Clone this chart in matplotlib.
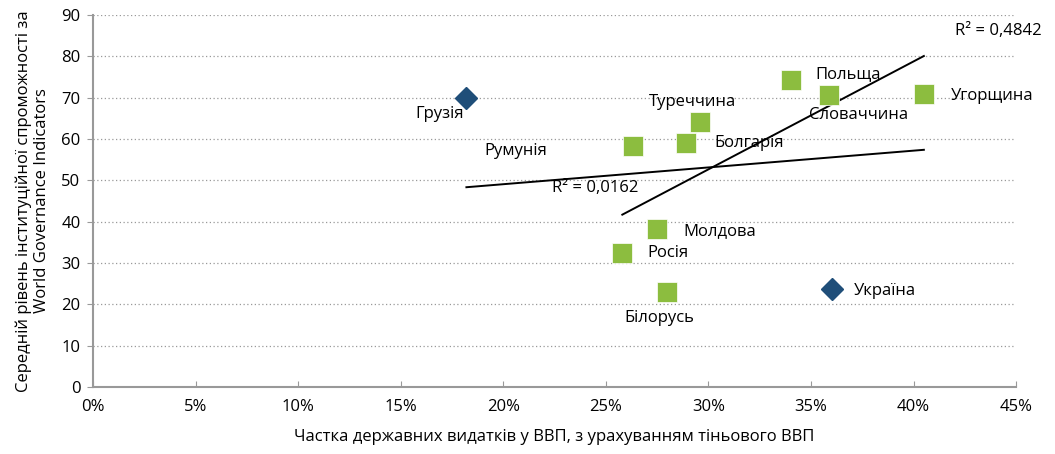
import numpy as np
import matplotlib.pyplot as plt

plt.rcParams["font.family"] = ["Open Sans", "DejaVu Sans"]

# Countries of the region (green squares)
green_names = ["Румунія", "Болгарія", "Туреччина", "Польща", "Словаччина",
               "Угорщина", "Молдова", "Росія", "Білорусь"]
green_x = [26.3, 28.9, 29.6, 34.0, 35.9, 40.5, 27.5, 25.8, 28.0]
green_y = [58.3, 59.0, 64.1, 74.3, 70.7, 70.9, 38.2, 32.4, 23.0]

# Highlighted countries (blue diamonds)
blue_names = ["Грузія", "Україна"]
blue_x = [18.2, 36.0]
blue_y = [70.0, 23.7]

green = "#8cbd3f"
blue = "#1f4e79"

fig = plt.figure(figsize=(10.55, 4.54), dpi=100)
ax = fig.add_axes([0.0882, 0.1476, 0.875, 0.8194])

# trend lines
all_x = np.array(green_x + blue_x)
all_y = np.array(green_y + blue_y)
k, b = np.polyfit(all_x, all_y, 1)
xs = np.array([all_x.min(), all_x.max()])
ax.plot(xs, k * xs + b, color="black", lw=1.4, zorder=3)

gx = np.array(green_x)
k2, b2 = np.polyfit(gx, np.array(green_y), 1)
xs2 = np.array([gx.min(), gx.max()])
ax.plot(xs2, k2 * xs2 + b2, color="black", lw=1.4, zorder=3)

ax.plot(green_x, green_y, "s", ms=14.4, color=green, mec="white", mew=0.5,
        ls="none", zorder=4)
ax.plot(blue_x, blue_y, "D", ms=10.8, color=blue, mec=blue, ls="none", zorder=4)

# labels
fs = 12
lab = {
    "Грузія": (16.9, 66.1, "center"),
    "Румунія": (20.6, 57.1, "center"),
    "Туреччина": (29.2, 69.0, "center"),
    "Болгарія": (30.3, 59.0, "left"),
    "Польща": (35.2, 75.7, "left"),
    "Словаччина": (37.3, 65.8, "center"),
    "Угорщина": (41.8, 70.4, "left"),
    "Молдова": (28.8, 37.7, "left"),
    "Росія": (27.0, 32.4, "left"),
    "Білорусь": (27.6, 16.7, "center"),
    "Україна": (37.1, 23.2, "left"),
}
for name, (tx, ty, ha) in lab.items():
    ax.text(tx, ty, name, ha=ha, va="center", fontsize=fs, zorder=5)

ax.text(44.15, 86.1, "R² = 0,4842", ha="center", va="center", fontsize=fs)
ax.text(24.5, 48.2, "R² = 0,0162", ha="center", va="center", fontsize=fs)

ax.set_xlim(0, 45)
ax.set_ylim(0, 90)
ax.set_xticks(range(0, 46, 5))
ax.set_xticklabels([f"{v}%" for v in range(0, 46, 5)])
ax.set_yticks(range(0, 91, 10))
ax.yaxis.grid(True, linestyle=(0, (1, 2)), color="#999999", lw=0.9)
ax.set_axisbelow(True)

for s in ["top", "right"]:
    ax.spines[s].set_visible(False)
for s in ["left", "bottom"]:
    ax.spines[s].set_color("#999999")
    ax.spines[s].set_linewidth(1.5)
ax.tick_params(axis="x", direction="in", length=4, color="#999999", labelsize=fs, pad=9)
ax.tick_params(axis="y", direction="out", length=4, color="#999999", labelsize=fs, pad=5)

ax.set_xlabel("Частка державних видатків у ВВП, з урахуванням тіньового ВВП",
              fontsize=fs, labelpad=10)
ax.set_ylabel("Середній рівень інституційної спроможності за\nWorld Governance Indicators",
              fontsize=fs, labelpad=8)

fig.savefig("out.png", dpi=100)
